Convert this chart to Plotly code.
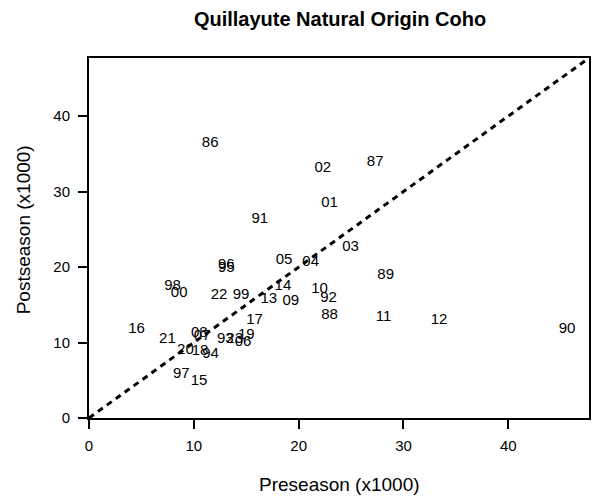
import plotly.graph_objects as go

years = ["86", "87", "88", "89", "90", "91", "92", "93", "94", "95", "96", "97", "98", "99",
         "00", "01", "02", "03", "04", "05", "06", "07", "08", "09", "10", "11", "12", "13",
         "14", "15", "16", "17", "18", "19", "20", "21", "22", "23"]
preseason = [11.56, 27.3, 22.95, 28.3, 45.6, 16.3, 22.85, 13.0, 11.6, 13.1, 13.1, 8.8, 7.97, 14.5,
             8.6, 22.95, 22.3, 24.95, 21.15, 18.6, 14.7, 10.8, 10.53, 19.25, 22.0, 28.1, 33.4, 17.15,
             18.5, 10.5, 4.53, 15.8, 10.6, 15.0, 9.2, 7.48, 12.4, 13.9]
postseason = [36.4, 33.9, 13.6, 18.9, 11.7, 26.4, 15.9, 10.5, 8.5, 19.8, 20.3, 5.8, 17.4, 16.2,
              16.5, 28.4, 33.1, 22.6, 20.7, 20.9, 10.0, 10.8, 11.2, 15.5, 17.1, 13.3, 12.9, 15.8,
              17.4, 4.9, 11.7, 12.9, 8.8, 10.9, 9.0, 10.4, 16.2, 10.5]
tick_vals = [0, 10, 20, 30, 40]
axis_max = 47.7
one_to_one = [0, axis_max]

FONT = "Liberation Sans, Arial, sans-serif"

fig = go.Figure()
fig.add_trace(go.Scatter(
    x=one_to_one, y=one_to_one, mode="lines",
    line=dict(color="black", width=3, dash="6px,5px"),
    hoverinfo="skip", showlegend=False,
))
fig.add_trace(go.Scatter(
    x=preseason, y=postseason, mode="text", text=years,
    textposition="middle center",
    textfont=dict(family=FONT, size=15, color="black"),
    showlegend=False, cliponaxis=False,
))

axis_common = dict(
    range=[0, axis_max], tickvals=tick_vals, showgrid=False, zeroline=False,
    showline=True, linecolor="black", linewidth=2, mirror=True,
    ticks="outside", ticklen=9, tickwidth=2, tickcolor="black",
    tickfont=dict(family=FONT, size=15, color="black"),
)

fig.update_layout(
    width=592, height=500,
    margin=dict(l=89, r=1, t=58, b=82),
    paper_bgcolor="white", plot_bgcolor="white",
    xaxis=dict(**axis_common, ticklabelstandoff=4),
    yaxis=dict(**axis_common, ticklabelstandoff=5),
    title=dict(text="<b>Quillayute Natural Origin Coho</b>", x=(89 + 591) / 2 / 592, xanchor="center",
               y=1 - 19 / 500, yanchor="middle",
               font=dict(family=FONT, size=20, color="black")),
    annotations=[
        dict(text="Preseason (x1000)", xref="paper", yref="paper", x=0.5, y=-0.186,
             showarrow=False, xanchor="center", yanchor="middle",
             font=dict(family=FONT, size=19, color="black")),
        dict(text="Postseason (x1000)", xref="paper", yref="paper", x=-0.1315, y=0.522,
             showarrow=False, textangle=-90, xanchor="center", yanchor="middle",
             font=dict(family=FONT, size=19, color="black")),
    ],
)

fig.write_html(
    "out.html",
    config={"displayModeBar": False},
    post_script="document.body.style.margin='0';document.body.style.overflow='hidden';",
)
